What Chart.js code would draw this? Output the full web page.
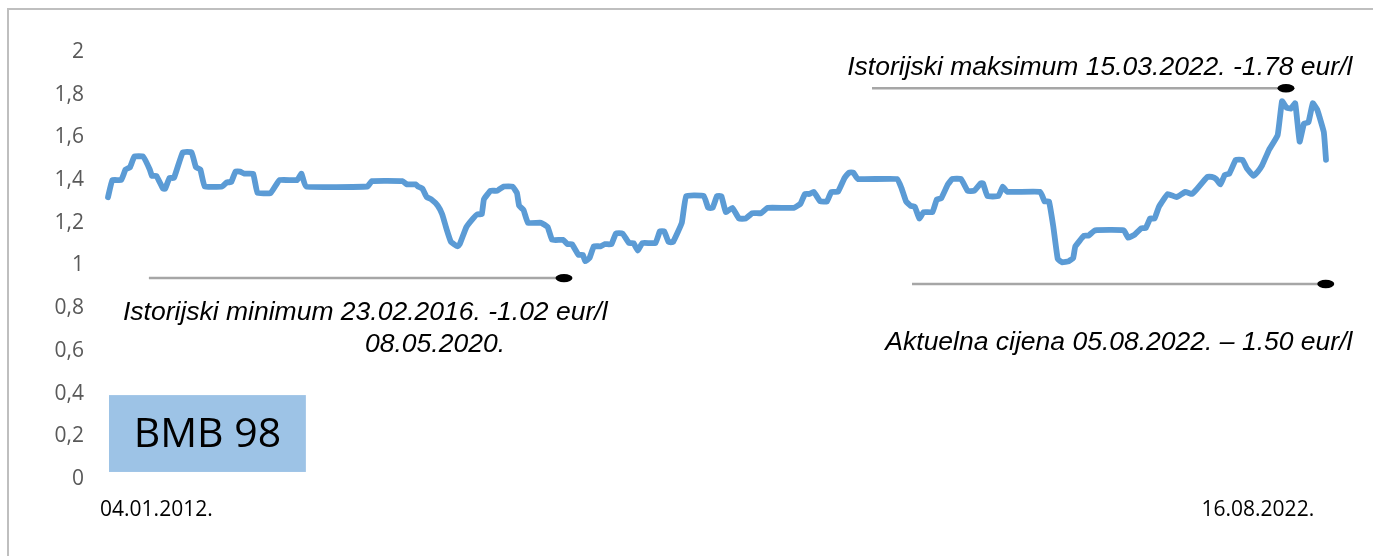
<!DOCTYPE html>
<html>
<head>
<meta charset="utf-8">
<script src="https://cdn.jsdelivr.net/npm/chart.js@4.4.1/dist/chart.umd.min.js"></script>
<style>
  html, body { margin: 0; padding: 0; background: #fff; }
  #wrap { position: relative; width: 1373px; height: 556px; }
  #frame {
    position: absolute; left: 7px; top: 8px; right: 0; bottom: 0;
    border-left: 2px solid #bfbfbf; border-top: 2px solid #bfbfbf;
    pointer-events: none;
  }
</style>
</head>
<body>
<div id="wrap">
  <canvas id="myChart" width="1373" height="556"></canvas>
  <div id="frame"></div>
</div>
<script>
// weeks since 04.01.2012 and BMB 98 price (eur/l)
var weeks = [
  0, 2, 6, 8, 10, 12, 16, 19, 20, 22, 25, 26, 28, 30, 34, 38, 40, 42, 44, 52,
  54, 56, 58, 60, 62, 66, 68, 74, 78, 86, 88, 90, 118, 120, 134, 136, 140, 141, 143, 145,
  147, 150, 152, 154, 156, 159, 160, 163, 166, 168, 170, 171, 174, 177, 180, 184, 186, 187, 189, 191,
  197, 200, 202, 207, 209, 211, 214, 216, 217, 219, 221, 224, 226, 229, 231, 234, 237, 239, 241, 243,
  249, 251, 253, 255, 257, 261, 263, 271, 273, 275, 277, 279, 281, 284, 287, 290, 293, 297, 300, 312,
  315, 317, 319, 321, 324, 327, 329, 332, 335, 337, 339, 341, 359, 361, 363, 365, 367, 369, 371, 375,
  377, 379, 382, 384, 388, 391, 394, 397, 398, 400, 405, 407, 409, 424, 426, 428, 430, 432, 434, 437,
  439, 440, 444, 446, 449, 462, 464, 467, 470, 472, 474, 476, 478, 482, 486, 490, 493, 495, 500, 502,
  504, 506, 508, 510, 513, 516, 518, 521, 523, 525, 528, 532, 534, 536, 538, 540, 542, 544, 546, 548,
  550, 553, 554
];
var prices = [
  1.32, 1.40, 1.40, 1.45, 1.46, 1.51, 1.51, 1.45, 1.42, 1.42, 1.36, 1.36, 1.41, 1.41, 1.53, 1.53, 1.46, 1.45, 1.37, 1.37,
  1.39, 1.39, 1.44, 1.44, 1.43, 1.43, 1.34, 1.34, 1.40, 1.40, 1.43, 1.37, 1.37, 1.395, 1.395, 1.38, 1.38, 1.37, 1.36, 1.32,
  1.31, 1.28, 1.24, 1.17, 1.11, 1.09, 1.10, 1.18, 1.22, 1.24, 1.24, 1.31, 1.35, 1.35, 1.37, 1.37, 1.34, 1.28, 1.26, 1.20,
  1.20, 1.18, 1.12, 1.12, 1.10, 1.10, 1.05, 1.05, 1.02, 1.035, 1.09, 1.09, 1.10, 1.10, 1.15, 1.15, 1.105, 1.105, 1.07, 1.105,
  1.105, 1.16, 1.16, 1.11, 1.11, 1.20, 1.325, 1.325, 1.27, 1.27, 1.325, 1.325, 1.25, 1.27, 1.22, 1.22, 1.245, 1.245, 1.27, 1.27,
  1.29, 1.335, 1.335, 1.345, 1.30, 1.30, 1.345, 1.345, 1.41, 1.435, 1.435, 1.405, 1.405, 1.36, 1.30, 1.28, 1.275, 1.22, 1.25, 1.25,
  1.31, 1.315, 1.38, 1.405, 1.405, 1.35, 1.35, 1.385, 1.385, 1.325, 1.325, 1.37, 1.345, 1.345, 1.30, 1.30, 1.18, 1.03, 1.015, 1.02,
  1.035, 1.09, 1.14, 1.14, 1.165, 1.165, 1.13, 1.145, 1.175, 1.175, 1.22, 1.22, 1.275, 1.335, 1.32, 1.345, 1.335, 1.355, 1.415, 1.415,
  1.405, 1.38, 1.425, 1.43, 1.495, 1.495, 1.455, 1.42, 1.44, 1.47, 1.54, 1.61, 1.77, 1.74, 1.735, 1.76, 1.58, 1.665, 1.67, 1.76,
  1.73, 1.625, 1.495
];
var yTickLabels = ["0", "0,2", "0,4", "0,6", "0,8", "1", "1,2", "1,4", "1,6", "1,8", "2"];
var xTickLabels = ["04.01.2012.", "16.08.2022."];
var xTickWeeks = [22, 523];

// notes drawn on top of the chart, placed in axis units
var markerLines = [
  { x0: 18.6, x1: 207.4, y: 0.941 },
  { x0: 347.5, x1: 535.8, y: 1.83 },
  { x0: 365.7, x1: 553.9, y: 0.913 }
];
var noteTexts = [
  { text: "Istorijski maksimum 15.03.2022. -1.78 eur/l", x: 566, y: 1.892, align: "right" },
  { text: "Istorijski minimum 23.02.2016. -1.02 eur/l", x: 6.8, y: 0.745, align: "left" },
  { text: "08.05.2020.", x: 116.9, y: 0.595, align: "left" },
  { text: "Aktuelna cijena 05.08.2022. \u2013 1.50 eur/l", x: 566, y: 0.604, align: "right" }
];
var labelBox = { x0: 0.45, x1: 90, y0: 0.033, y1: 0.393, text: "BMB 98" };

var notes = {
  id: "notes",
  beforeDatasetsDraw: function (chart) {
    var ctx = chart.ctx, xs = chart.scales.x, ys = chart.scales.y;
    var l = xs.getPixelForValue(labelBox.x0), r = xs.getPixelForValue(labelBox.x1);
    var t = ys.getPixelForValue(labelBox.y1), b = ys.getPixelForValue(labelBox.y0);
    ctx.save();
    ctx.fillStyle = "#9dc3e6";
    ctx.fillRect(l, t, r - l, b - t);
    ctx.fillStyle = "#000";
    ctx.font = '41px "Open Sans"';
    ctx.textAlign = "center";
    ctx.textBaseline = "middle";
    ctx.fillText(labelBox.text, (l + r) / 2, (t + b) / 2 + 2);
    ctx.restore();
  },
  afterDatasetsDraw: function (chart) {
    var ctx = chart.ctx, xs = chart.scales.x, ys = chart.scales.y;
    ctx.save();
    markerLines.forEach(function (m) {
      var a = xs.getPixelForValue(m.x0), c = xs.getPixelForValue(m.x1), y = ys.getPixelForValue(m.y);
      ctx.strokeStyle = "#a6a6a6";
      ctx.lineWidth = 2.5;
      ctx.beginPath();
      ctx.moveTo(a, y);
      ctx.lineTo(c, y);
      ctx.stroke();
      ctx.fillStyle = "#000";
      ctx.beginPath();
      ctx.ellipse(c, y, 8.5, 4.2, 0, 0, Math.PI * 2);
      ctx.fill();
    });
    ctx.fillStyle = "#000";
    ctx.font = 'italic 26.5px "Liberation Sans"';
    ctx.textBaseline = "alphabetic";
    noteTexts.forEach(function (n) {
      ctx.textAlign = n.align;
      ctx.fillText(n.text, xs.getPixelForValue(n.x), ys.getPixelForValue(n.y));
    });
    ctx.restore();
  }
};

new Chart(document.getElementById("myChart"), {
  type: "line",
  data: {
    datasets: [
      {
        label: "BMB 98",
        data: weeks.map(function (w, i) { return { x: w, y: prices[i] }; }),
        borderColor: "#5b9bd5",
        borderWidth: 5.8,
        pointRadius: 0,
        tension: 0.1,
        borderJoinStyle: "round",
        borderCapStyle: "round",
        fill: false,
        clip: false
      }
    ]
  },
  options: {
    responsive: false,
    animation: false,
    layout: { padding: { left: 0, right: 47, top: 52, bottom: 0 } },
    plugins: { legend: { display: false }, tooltip: { enabled: false } },
    scales: {
      x: {
        type: "linear",
        min: 0,
        max: 554,
        grid: { display: false, drawTicks: false },
        border: { display: false },
        afterBuildTicks: function (scale) {
          scale.ticks = xTickWeeks.map(function (v) { return { value: v }; });
        },
        afterFit: function (scale) { scale.height = 77; },
        ticks: {
          autoSkip: false,
          maxRotation: 0,
          padding: 18,
          color: "#000",
          font: { family: "Open Sans", size: 21 },
          callback: function (v, i) { return xTickLabels[i]; }
        }
      },
      y: {
        min: 0,
        max: 2,
        grid: { display: false, drawTicks: false },
        border: { display: false },
        afterFit: function (scale) { scale.width = 108; },
        ticks: {
          stepSize: 0.2,
          padding: 24,
          color: "#595959",
          font: { family: "Open Sans", size: 21 },
          callback: function (v) { return yTickLabels[Math.round(v * 5)]; }
        }
      }
    }
  },
  plugins: [notes]
});
</script>
</body>
</html>
